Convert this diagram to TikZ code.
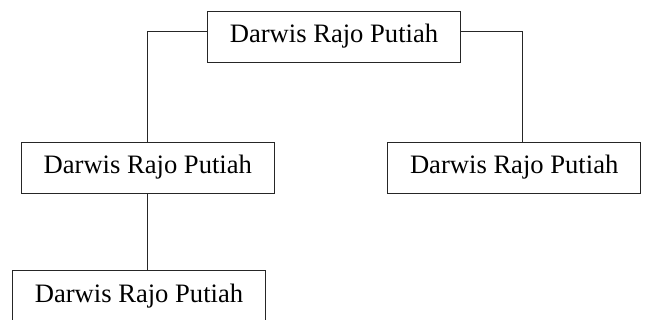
\documentclass[tikz,border=0pt]{standalone}
\usepackage{fontspec}
\setmainfont{Liberation Serif}
\newcommand{\pname}{Darwis Rajo Putiah\hspace{4.6pt}}
\begin{document}
\begin{tikzpicture}[x=1pt,y=-1pt,
  person/.style={draw=black!85,line width=0.9pt,minimum width=253pt,minimum height=51pt,inner sep=0pt,font=\fontsize{26.6}{30}\selectfont},
  link/.style={draw=black!85,line width=0.9pt}]
\useasboundingbox (0,0) rectangle (645,320);
\node[person] (top) at (334,36.5) {\pname};
\node[person] (left) at (147.8,167.5) {\pname};
\node[person] (right) at (514.2,167.5) {\pname};
\node[person,minimum width=252.6pt] (bot) at (139,296.2) {\pname};
\draw[link] ([yshift=5.5pt]top.west) -| (left.north);
\draw[link] ([yshift=5.5pt]top.east) -| ([xshift=8pt]right.north);
\draw[link] (left.south) -- (left.south |- bot.north);
\end{tikzpicture}
\end{document}
